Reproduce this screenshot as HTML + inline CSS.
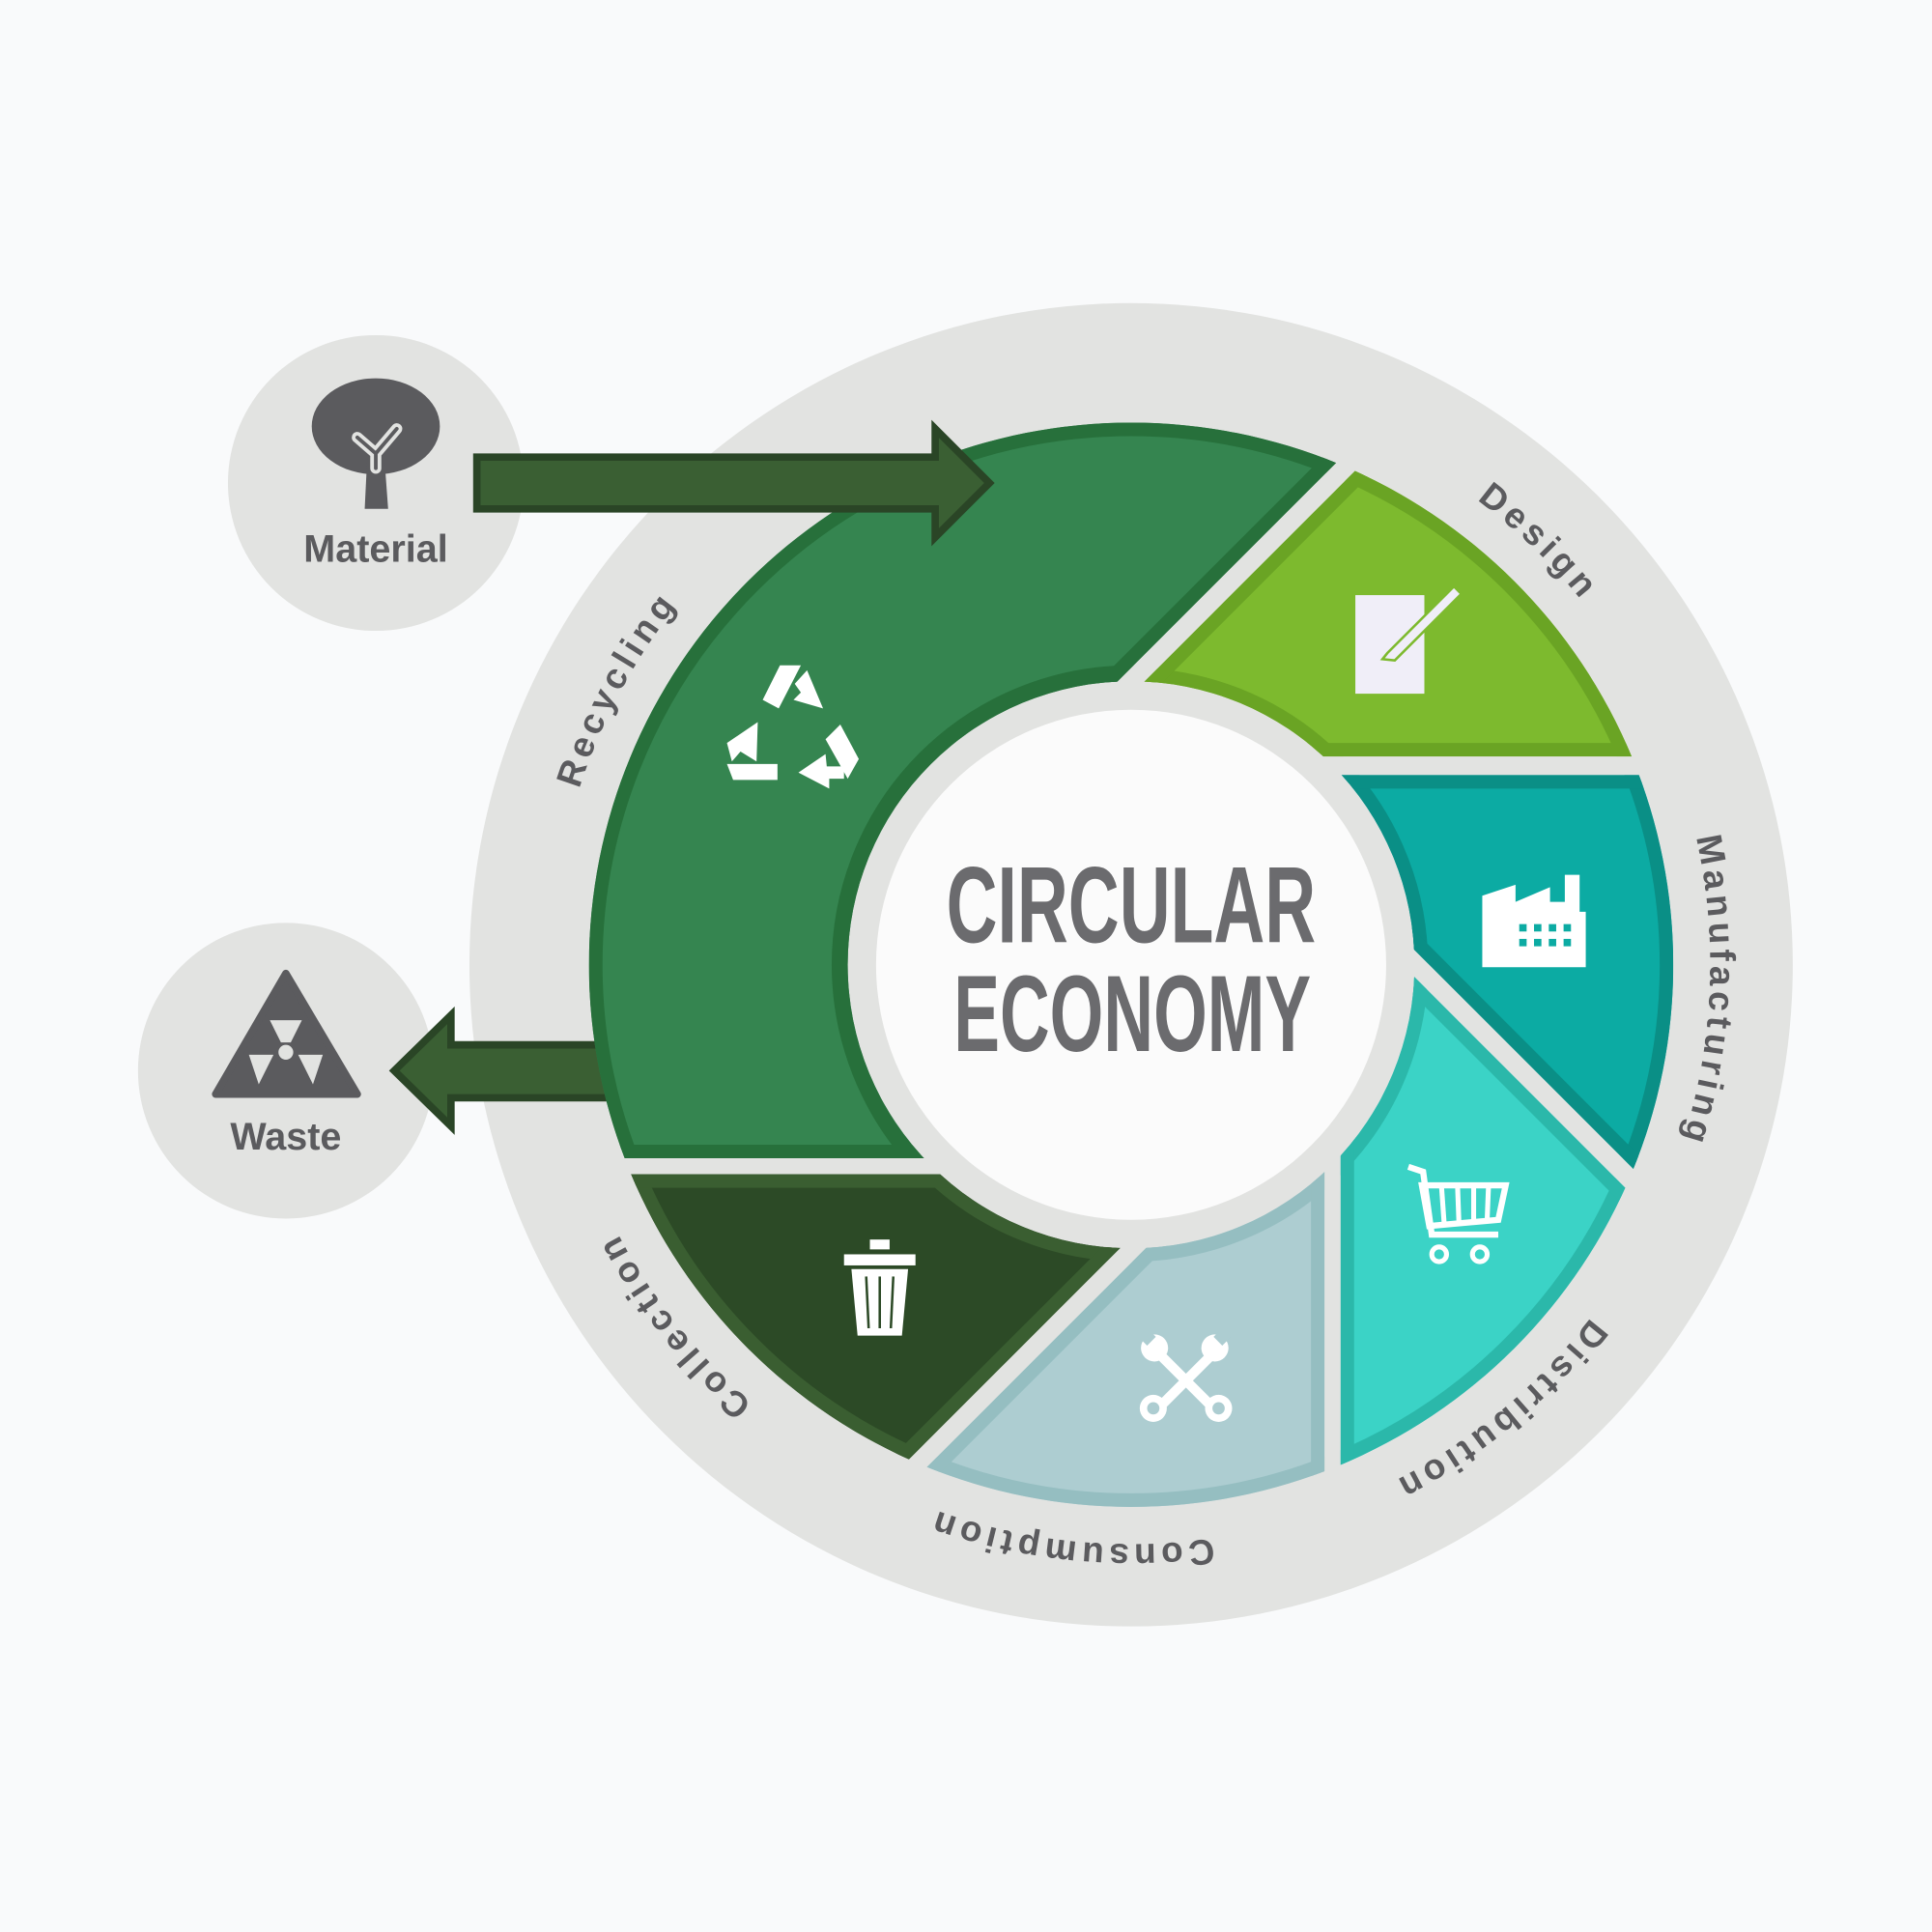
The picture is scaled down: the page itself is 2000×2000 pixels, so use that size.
<!DOCTYPE html>
<html><head><meta charset="utf-8"><style>
html,body{margin:0;padding:0;background:#f9fafb;overflow:hidden;width:2000px;height:2000px;}
svg{display:block;}
</style></head><body>
<svg width="2000" height="2000" viewBox="0 0 1568 1568" xmlns="http://www.w3.org/2000/svg">
<defs>
<clipPath id="ann"><path fill-rule="evenodd" clip-rule="evenodd" d="M478,783a440,440 0 1,0 880,0a440,440 0 1,0 -880,0ZM688,783a230,230 0 1,0 460,0a230,230 0 1,0 -460,0Z"/></clipPath>
<clipPath id="pDes"><polygon points="1482,0 2000,0 2000,614 868,614"/></clipPath>
<clipPath id="pMan"><polygon points="1006,629 2000,629 2000,1623"/></clipPath>
<clipPath id="pDis"><polygon points="1088,733 2000,1645 2000,2000 1088,2000"/></clipPath>
<clipPath id="pCon"><polygon points="1075,868 1075,2000 0,2000 0,1943"/></clipPath>
<clipPath id="pCol"><polygon points="0,953 969,953 0,1922"/></clipPath>
<clipPath id="pRec"><polygon points="0,0 1460,0 880,580 918,783 918,940 0,940"/></clipPath>
<path id="lab" d="M1388,783a470,470 0 1,1 -940,0a470,470 0 1,1 940,0a470,470 0 1,1 -940,0a470,470 0 1,1 940,0"/>
</defs>
<rect width="1568" height="1568" fill="#f9fafb"/>
<circle cx="918" cy="783" r="537" fill="#e2e3e1"/>
<!-- waste circle -->
<circle cx="232" cy="869" r="120" fill="#e2e3e1"/>
<!-- waste arrow (behind ring) -->
<polygon points="320,869 366,824 366,848 500,848 500,891 366,891 366,914" fill="#3a5f33" stroke="#2a4526" stroke-width="6" stroke-linejoin="miter"/>
<!-- segments -->
<g clip-path="url(#ann)">
 <g clip-path="url(#pRec)"><rect width="1568" height="1568" fill="#358550"/><circle cx="918" cy="783" r="440" fill="none" stroke="#27703b" stroke-width="22"/><circle cx="918" cy="783" r="230" fill="none" stroke="#27703b" stroke-width="26"/><polygon points="0,0 1460,0 880,580 918,783 918,940 0,940" fill="none" stroke="#27703b" stroke-width="22"/></g>
 <g clip-path="url(#pDes)"><rect width="1568" height="1568" fill="#7dba2e"/><circle cx="918" cy="783" r="440" fill="none" stroke="#6aa424" stroke-width="22"/><circle cx="918" cy="783" r="230" fill="none" stroke="#6aa424" stroke-width="22"/><polygon points="1482,0 2000,0 2000,614 868,614" fill="none" stroke="#6aa424" stroke-width="22"/></g>
 <g clip-path="url(#pMan)"><rect width="1568" height="1568" fill="#0caba3"/><circle cx="918" cy="783" r="440" fill="none" stroke="#0a8f86" stroke-width="22"/><circle cx="918" cy="783" r="230" fill="none" stroke="#0a8f86" stroke-width="22"/><polygon points="1006,629 2000,629 2000,1623" fill="none" stroke="#0a8f86" stroke-width="22"/></g>
 <g clip-path="url(#pDis)"><rect width="1568" height="1568" fill="#3bd3c6"/><circle cx="918" cy="783" r="440" fill="none" stroke="#2bb8aa" stroke-width="22"/><circle cx="918" cy="783" r="230" fill="none" stroke="#2bb8aa" stroke-width="22"/><polygon points="1088,733 2000,1645 2000,2000 1088,2000" fill="none" stroke="#2bb8aa" stroke-width="22"/></g>
 <g clip-path="url(#pCon)"><rect width="1568" height="1568" fill="#adcdd1"/><circle cx="918" cy="783" r="440" fill="none" stroke="#95bec1" stroke-width="22"/><circle cx="918" cy="783" r="230" fill="none" stroke="#95bec1" stroke-width="22"/><polygon points="1075,868 1075,2000 0,2000 0,1943" fill="none" stroke="#95bec1" stroke-width="22"/></g>
 <g clip-path="url(#pCol)"><rect width="1568" height="1568" fill="#2c4a26"/><circle cx="918" cy="783" r="440" fill="none" stroke="#3a5e31" stroke-width="22"/><circle cx="918" cy="783" r="230" fill="none" stroke="#3a5e31" stroke-width="22"/><polygon points="0,953 969,953 0,1922" fill="none" stroke="#3a5e31" stroke-width="22"/></g>
</g>
<circle cx="918" cy="783" r="207" fill="#fbfbfb"/>
<!-- center text -->
<g font-family="'Liberation Sans Narrow','Liberation Sans',sans-serif" font-weight="bold" fill="#6b6b6e" font-size="88">
<text x="768" y="765" textLength="300" lengthAdjust="spacingAndGlyphs">CIRCULAR</text>
<text x="774" y="853" textLength="290" lengthAdjust="spacingAndGlyphs">ECONOMY</text>
</g>
<!-- labels -->
<g font-family="'Liberation Sans',sans-serif" font-weight="bold" font-size="29" fill="#5b5b5e" letter-spacing="4" text-anchor="middle">
<text><textPath href="#lab" startOffset="2576">Design</textPath></text>
<text><textPath href="#lab" startOffset="2975">Manufacturing</textPath></text>
<text><textPath href="#lab" startOffset="413">Distribution</textPath></text>
<text><textPath href="#lab" startOffset="787">Consumption</textPath></text>
<text><textPath href="#lab" startOffset="1163">Collection</textPath></text>
<text><textPath href="#lab" startOffset="1708">Recycling</textPath></text>
</g>
<!-- material -->
<circle cx="305" cy="392" r="120" fill="#e2e3e1"/>
<ellipse cx="305" cy="346" rx="52" ry="39" fill="#5b5b5e"/>
<polygon points="298,372 312,372 315,413 296,413" fill="#5b5b5e"/>
<path d="M290,355 L305,368 L305,380 M305,368 L322,348" fill="none" stroke="#e2e3e1" stroke-width="9" stroke-linecap="round"/>
<path d="M290,355 L305,368 L305,380 M305,368 L322,348" fill="none" stroke="#5b5b5e" stroke-width="3" stroke-linecap="round"/>
<text x="305" y="456" font-family="'Liberation Sans',sans-serif" font-weight="bold" font-size="31" fill="#5b5b5e" text-anchor="middle">Material</text>
<!-- material arrow -->
<polygon points="387,371 759,371 759,348 803,392 759,436 759,413 387,413" fill="#3a5f33" stroke="#2a4526" stroke-width="6"/>
<!-- waste icon -->
<path d="M232,790 L290,888 L175,888 Z" fill="#5b5b5e" stroke="#5b5b5e" stroke-width="6" stroke-linejoin="round"/>
<g fill="#e2e3e1"><circle cx="232" cy="854" r="6"/><path d="M219,828 L245,828 L236,846 L228,846 Z"/><path d="M202,856 L222,856 L218,864 L210,880 Z"/><path d="M262,856 L242,856 L246,864 L254,880 Z"/></g>
<text x="232" y="933" font-family="'Liberation Sans',sans-serif" font-weight="bold" font-size="31" fill="#5b5b5e" text-anchor="middle">Waste</text>
<!-- icons -->
<g fill="#fff">
 <polygon points="633,540 650,540 632,575 619,568"/><polygon points="655,544 668,575 644,568 650,562 645,555"/>
 <polygon points="682,588 697,616 688,632 670,600"/><polygon points="673,640 648,627 670,612 671,622 685,622 685,632 673,632"/>
 <polygon points="590,620 631,620 631,633 595,633"/><polygon points="590,603 615,586 614,618 601,610 594,618"/>
 <rect x="1100" y="483" width="56" height="80" fill="#f0eef8"/>
 <path d="M1126,530 L1180,476 L1186,482 L1132,536 L1122,535 Z" fill="#f0eef8" stroke="#7dba2e" stroke-width="2"/>
 <path d="M1203,727 L1230,718 L1230,732 L1258,720 L1258,732 L1270,732 L1270,710 L1282,710 L1282,740 L1287,740 L1287,785 L1203,785 Z"/>
 <path d="M1143,947 L1155,951 L1162,1002 L1216,1002" fill="none" stroke="#fff" stroke-width="5"/>
 <path d="M1154,962 L1222,962 L1216,990 L1160,995 Z" fill="none" stroke="#fff" stroke-width="5"/>
 <g stroke="#fff" stroke-width="4"><line x1="1170" y1="964" x2="1172" y2="992"/><line x1="1183" y1="964" x2="1184" y2="991"/><line x1="1196" y1="964" x2="1196" y2="990"/><line x1="1208" y1="964" x2="1207" y2="989"/></g>
 <circle cx="1168" cy="1018" r="6" fill="none" stroke="#fff" stroke-width="4"/><circle cx="1201" cy="1018" r="6" fill="none" stroke="#fff" stroke-width="4"/>
 <rect x="685" y="1018" width="58" height="9"/><rect x="706" y="1006" width="16" height="8"/>
 <path d="M691,1030 L737,1030 L732,1084 L696,1084 Z"/>
 <g stroke="#2c4a26" stroke-width="2"><line x1="703" y1="1036" x2="705" y2="1078"/><line x1="714" y1="1036" x2="714" y2="1078"/><line x1="725" y1="1036" x2="723" y2="1078"/></g>
 <g stroke="#fff" stroke-width="8" stroke-linecap="round"><line x1="940" y1="1098" x2="988" y2="1146"/><line x1="985" y1="1098" x2="937" y2="1146"/></g>
 <circle cx="936" cy="1143" r="11"/><circle cx="989" cy="1143" r="11"/><circle cx="937" cy="1094" r="11"/><circle cx="986" cy="1094" r="11"/>
 <circle cx="936" cy="1143" r="5" fill="#adcdd1"/><circle cx="989" cy="1143" r="5" fill="#adcdd1"/><rect x="926" y="1080" width="10" height="10" fill="#adcdd1" transform="rotate(45 931 1085)"/><rect x="987" y="1080" width="10" height="10" fill="#adcdd1" transform="rotate(45 992 1085)"/>
</g>
<g fill="#0caba3"><rect x="1233" y="750" width="6" height="6"/><rect x="1245" y="750" width="6" height="6"/><rect x="1257" y="750" width="6" height="6"/><rect x="1269" y="750" width="6" height="6"/><rect x="1233" y="762" width="6" height="6"/><rect x="1245" y="762" width="6" height="6"/><rect x="1257" y="762" width="6" height="6"/><rect x="1269" y="762" width="6" height="6"/></g>
</svg>
</body></html>
